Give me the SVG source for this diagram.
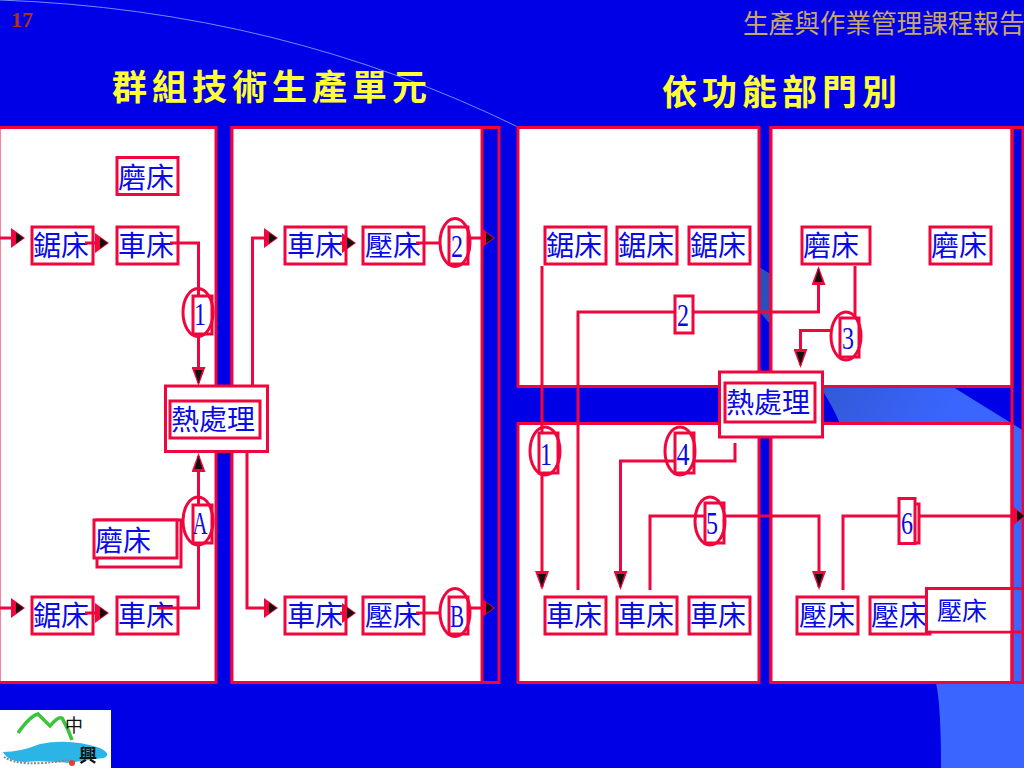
<svg xmlns="http://www.w3.org/2000/svg" width="1024" height="768" viewBox="0 0 1024 768">
<style>
.panel{fill:#fff;stroke:#f0063c;stroke-width:3}
.strip{fill:none;stroke:#f0063c;stroke-width:3}
.box{fill:#fff;stroke:#f0063c;stroke-width:3}
.ring{fill:none;stroke:#f0063c;stroke-width:3}
.h{fill:none;stroke:#f0063c;stroke-width:3;marker-end:url(#arrowH)}
.v{fill:none;stroke:#f0063c;stroke-width:3;marker-end:url(#arrowV)}
.plain{fill:none;stroke:#f0063c;stroke-width:3}
text{font-family:"Noto Sans CJK TC","Liberation Serif",serif}
.lab{font-size:28px;fill:#0a0ae6}
.num{font-family:"Liberation Serif",serif;font-size:32px;fill:#0a0ae6;text-anchor:middle}
.title{font-size:35px;font-weight:700;fill:#ffff33;letter-spacing:5px}
</style>
<defs>
<marker id="arrowH" markerUnits="userSpaceOnUse" viewBox="0 0 14 20" refX="11" refY="10" markerWidth="14" markerHeight="20" orient="auto">
<path d="M0 0L14 10L0 20Z" fill="#f0063c"/><path d="M5 4.500L12.500 10L5 15.500Z" fill="#111"/>
</marker>
<marker id="arrowV" markerUnits="userSpaceOnUse" viewBox="0 0 19 14" refX="16" refY="7" markerWidth="19" markerHeight="14" orient="auto">
<path d="M0 0L19 7L0 14Z" fill="#f0063c"/><path d="M3 3L16 7L3 11Z" fill="#111"/>
</marker>
<linearGradient id="sw" gradientUnits="userSpaceOnUse" x1="760" y1="300" x2="960" y2="400"><stop offset="0" stop-color="#2b4fb8"/><stop offset="1" stop-color="#3a66ff"/></linearGradient>
</defs>
<rect width="1024" height="768" fill="#0000e6"/>
<path d="M756 265L1024 431V768H941Q941 705 936 683L840 424Q825 385 771 325L756 308Z" fill="url(#sw)"/>
<path d="M0 0Q280 10 520 128" fill="none" stroke="#6f8cff" stroke-width="1"/>
<text x="11" y="27" font-size="22" font-weight="700" fill="#b03020" style="font-family:'Liberation Serif',serif">17</text>
<text x="743" y="33" font-size="25.600" fill="#c8a868">生產與作業管理課程報告</text>
<text class="title" x="112" y="100">群組技術生產單元</text>
<text class="title" x="662" y="105">依功能部門別</text>
<g id="panels">
<rect class="strip" x="232" y="127.500" width="267" height="555"/>
<rect class="strip" x="771" y="127.500" width="252" height="555"/>
<rect class="panel" x="-1" y="127.500" width="217" height="555"/>
<rect class="panel" x="232" y="127.500" width="250" height="555"/>
<rect class="panel" x="518" y="127.500" width="241" height="259"/>
<rect class="panel" x="771" y="127.500" width="241" height="259"/>
<rect class="panel" x="518" y="423.500" width="241" height="259"/>
<rect class="panel" x="771" y="423.500" width="241" height="259"/>
</g>
<g id="n-mill-l1"><rect class="box" x="117" y="157.500" width="61" height="37"/><text class="lab" x="118" y="188">磨床</text></g>
<g id="n-saw-l1"><rect class="box" x="32" y="227" width="61" height="37"/><text class="lab" x="33" y="256">鋸床</text></g>
<g id="n-lathe-l1"><rect class="box" x="117" y="227" width="61" height="37"/><text class="lab" x="118" y="256">車床</text></g>
<g id="n-mill-l2"><rect class="box" x="97" y="520" width="84" height="47"/><rect class="box" x="94" y="520" width="83" height="38"/><text class="lab" x="95" y="551">磨床</text></g>
<g id="n-saw-l2"><rect class="box" x="32" y="597" width="61" height="37"/><text class="lab" x="33" y="626">鋸床</text></g>
<g id="n-lathe-l2"><rect class="box" x="117" y="597" width="61" height="37"/><text class="lab" x="118" y="626">車床</text></g>
<g id="n-lathe-m1"><rect class="box" x="285" y="227" width="61" height="37"/><text class="lab" x="287" y="256">車床</text></g>
<g id="n-press-m1"><rect class="box" x="363" y="227" width="61" height="37"/><text class="lab" x="365" y="256">壓床</text></g>
<g id="n-lathe-m2"><rect class="box" x="285" y="597" width="61" height="37"/><text class="lab" x="287" y="626">車床</text></g>
<g id="n-press-m2"><rect class="box" x="363" y="597" width="61" height="37"/><text class="lab" x="365" y="626">壓床</text></g>
<g id="n-saw-r1"><rect class="box" x="545" y="227" width="61" height="37"/><text class="lab" x="546" y="256">鋸床</text></g>
<g id="n-saw-r2"><rect class="box" x="617" y="227" width="60" height="37"/><text class="lab" x="618" y="256">鋸床</text></g>
<g id="n-saw-r3"><rect class="box" x="689" y="227" width="61" height="37"/><text class="lab" x="690" y="256">鋸床</text></g>
<g id="n-mill-r1"><rect class="box" x="802" y="227" width="68" height="37"/><text class="lab" x="803" y="256">磨床</text></g>
<g id="n-mill-r2"><rect class="box" x="930" y="227" width="61" height="37"/><text class="lab" x="931" y="256">磨床</text></g>
<g id="n-lathe-r1"><rect class="box" x="545" y="597" width="61" height="37"/><text class="lab" x="546" y="626">車床</text></g>
<g id="n-lathe-r2"><rect class="box" x="617" y="597" width="60" height="37"/><text class="lab" x="618" y="626">車床</text></g>
<g id="n-lathe-r3"><rect class="box" x="689" y="597" width="61" height="37"/><text class="lab" x="690" y="626">車床</text></g>
<g id="n-press-r1"><rect class="box" x="797" y="597" width="61" height="37"/><text class="lab" x="799" y="626">壓床</text></g>
<g id="n-press-r2"><rect class="box" x="870" y="597" width="60" height="37"/><text class="lab" x="871" y="626">壓床</text></g>
<g id="n-press-r3"><path d="M1024 588.500H926.500V632H1024" class="plain"/><rect x="928" y="590" width="84" height="40.500" fill="#fff"/><path d="M1012 127V683" class="plain"/><text x="937" y="620" font-size="25" fill="#0a0ae6">壓床</text></g>
<g id="connectors">
<path class="h" d="M0 238H22"/>
<path class="h" d="M85 243H106"/>
<path class="v" d="M170 243H198.500V383"/>
<path class="h" d="M0 608H22"/>
<path class="h" d="M85 613H106"/>
<path class="v" d="M157 608H198.500V456"/>
<path class="h" d="M252.500 386V238H275"/>
<path class="h" d="M247 452V608H275"/>
<path class="h" d="M340 243H353"/>
<path class="h" d="M340 613H353"/>
<path class="plain" d="M416 243H440"/>
<path class="plain" d="M416 613H440"/>
<path class="h" d="M468 238H492"/>
<path class="h" d="M468 608H492"/>
<path class="v" d="M542 266V587"/>
<path class="v" d="M578 590V312H818.500V269"/>
<path class="plain" d="M855 266V320"/>
<path class="v" d="M832 330.500H800.500V365"/>
<path class="v" d="M735 443V461H620.500V587"/>
<path class="v" d="M650 590V516H819V587"/>
<path class="h" d="M843 590V516H1023"/>
</g>
<g id="s-1"><rect class="box" x="193" y="296" width="19" height="38"/><ellipse class="ring" cx="198" cy="312.500" rx="15" ry="24"/><text class="num" x="200" y="325" textLength="12" lengthAdjust="spacingAndGlyphs">1</text></g>
<g id="s-A"><rect class="box" x="193" y="505" width="19" height="38"/><ellipse class="ring" cx="198" cy="521" rx="15" ry="24"/><text class="num" x="200" y="534" textLength="15" lengthAdjust="spacingAndGlyphs">A</text></g>
<g id="s-2"><rect class="box" x="449" y="227" width="19" height="37"/><ellipse class="ring" cx="455" cy="242.500" rx="15" ry="24"/><text class="num" x="457" y="257" textLength="12" lengthAdjust="spacingAndGlyphs">2</text></g>
<g id="s-B"><rect class="box" x="449" y="597" width="19" height="37"/><ellipse class="ring" cx="455" cy="612.500" rx="15" ry="24"/><text class="num" x="457" y="627" textLength="14" lengthAdjust="spacingAndGlyphs">B</text></g>
<g id="r-1"><rect class="box" x="539" y="433" width="19" height="40"/><ellipse class="ring" cx="545" cy="451" rx="15" ry="24"/><text class="num" x="546" y="465" textLength="12" lengthAdjust="spacingAndGlyphs">1</text></g>
<g id="r-2"><rect class="box" x="675" y="296" width="18" height="37"/><text class="num" x="683" y="326" textLength="12" lengthAdjust="spacingAndGlyphs">2</text></g>
<g id="r-3"><rect class="box" x="840" y="318" width="19" height="39"/><ellipse class="ring" cx="846" cy="336" rx="15" ry="24"/><text class="num" x="848" y="349" textLength="12" lengthAdjust="spacingAndGlyphs">3</text></g>
<g id="r-4"><rect class="box" x="675" y="433" width="19" height="40"/><ellipse class="ring" cx="680" cy="451" rx="15" ry="24"/><text class="num" x="683" y="465" textLength="13" lengthAdjust="spacingAndGlyphs">4</text></g>
<g id="r-5"><rect class="box" x="705" y="503" width="19" height="40"/><ellipse class="ring" cx="710" cy="521" rx="15" ry="24"/><text class="num" x="712" y="534" textLength="12" lengthAdjust="spacingAndGlyphs">5</text></g>
<g id="r-6"><rect class="box" x="901" y="504" width="18" height="39"/><rect class="box" x="899" y="498.500" width="16" height="45"/><text class="num" x="907" y="534" textLength="12" lengthAdjust="spacingAndGlyphs">6</text></g>
<g id="heat-l"><rect class="box" x="165.500" y="386" width="102" height="65.500"/><rect class="box" x="170" y="401" width="90" height="37"/><text class="lab" x="171" y="430">熱處理</text></g>
<g id="heat-r"><rect class="box" x="719.500" y="372" width="103" height="65"/><rect class="box" x="725" y="383" width="90" height="39"/><text class="lab" x="726" y="413">熱處理</text></g>
<g id="logo">
<rect x="0" y="710" width="111" height="58" fill="#fff"/>
<path d="M18 733Q30 716 38 714Q46 722 50 726Q58 716 62 718Q68 728 72 740" fill="none" stroke="#3cc43c" stroke-width="3.500"/>
<path d="M3 752Q20 752 40 744Q70 738 100 748Q112 754 104 758Q85 760 70 763Q40 760 25 762Q8 762 3 752Z" fill="#2bb4e6"/>
<path d="M4 757Q20 768 68 760" fill="none" stroke="#888" stroke-width="2" stroke-dasharray="2 1.500"/>
<text x="65" y="732" font-size="18" fill="#111">中</text>
<text x="79" y="762" font-size="18" font-weight="700" fill="#111">興</text>
<circle cx="72" cy="763" r="3" fill="#e04030"/>
</g>
</svg>
